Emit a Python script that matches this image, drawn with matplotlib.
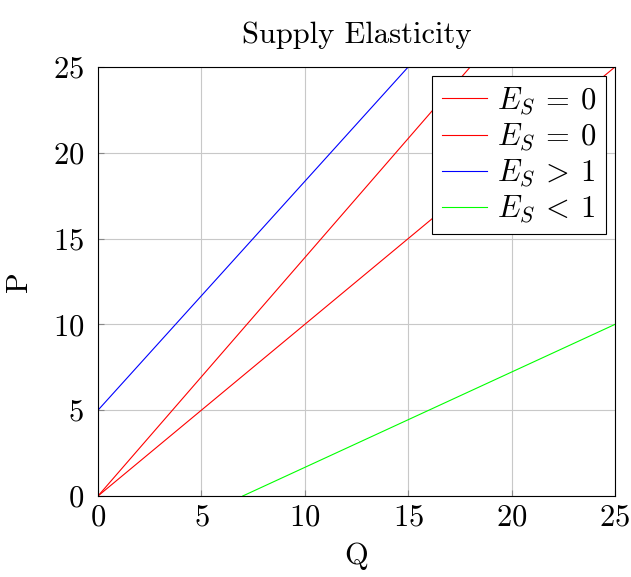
import matplotlib
matplotlib.use("Agg")
import matplotlib.pyplot as plt

plt.rcParams['font.family'] = 'serif'
plt.rcParams['font.serif'] = ['cmr10']
plt.rcParams['mathtext.fontset'] = 'cm'
plt.rcParams['axes.formatter.use_mathtext'] = True

# data
unit_q = [0, 25]
unit_p = [0, 25]
steep_q = [0, 18]
steep_p = [0, 25]
elastic_q = [0, 15]
elastic_p = [5, 25]
inelastic_q = [7, 25]
inelastic_p = [0, 10]
labels = [r'$E_S\:=\:0$', r'$E_S\:=\:0$', r'$E_S\:>\:1$', r'$E_S\:<\:1$']
ticks = [0, 5, 10, 15, 20, 25]

fig = plt.figure(figsize=(6.31, 5.77), dpi=100)
ax = fig.add_axes([0.1553, 0.1404, 0.9746 - 0.1553, 0.8839 - 0.1404])

ax.plot(unit_q, unit_p, color='#ff0000', lw=0.8, label=labels[0])
ax.plot(steep_q, steep_p, color='#ff0000', lw=0.8, label=labels[1])
ax.plot(elastic_q, elastic_p, color='#0000ff', lw=0.8, label=labels[2])
ax.plot(inelastic_q, inelastic_p, color='#00ff00', lw=0.8, label=labels[3])

ax.set_xlim(0, 25)
ax.set_ylim(0, 25)
ax.set_xticks(ticks)
ax.set_yticks(ticks)
ax.grid(True, color='#c8c8c8', lw=0.8)
ax.set_axisbelow(True)
ax.tick_params(direction='in', length=4, color='#888888', labelsize=22)
ax.tick_params(axis='x', pad=6)
ax.tick_params(axis='y', pad=10)
for s in ax.spines.values():
    s.set_linewidth(0.8)

fs = 22
ax.set_title('Supply Elasticity', fontsize=22, pad=17)
ax.set_xlabel('Q', fontsize=fs, labelpad=8)
ax.set_ylabel('P', fontsize=fs, labelpad=14)

leg = ax.legend(loc='upper right', fontsize=fs, frameon=True, fancybox=False,
                edgecolor='black', framealpha=1, handlelength=1.5,
                borderaxespad=0.3, labelspacing=0.15, handletextpad=0.3,
                borderpad=0.3)
leg.get_frame().set_linewidth(0.8)

fig.savefig('out.png', dpi=100)
